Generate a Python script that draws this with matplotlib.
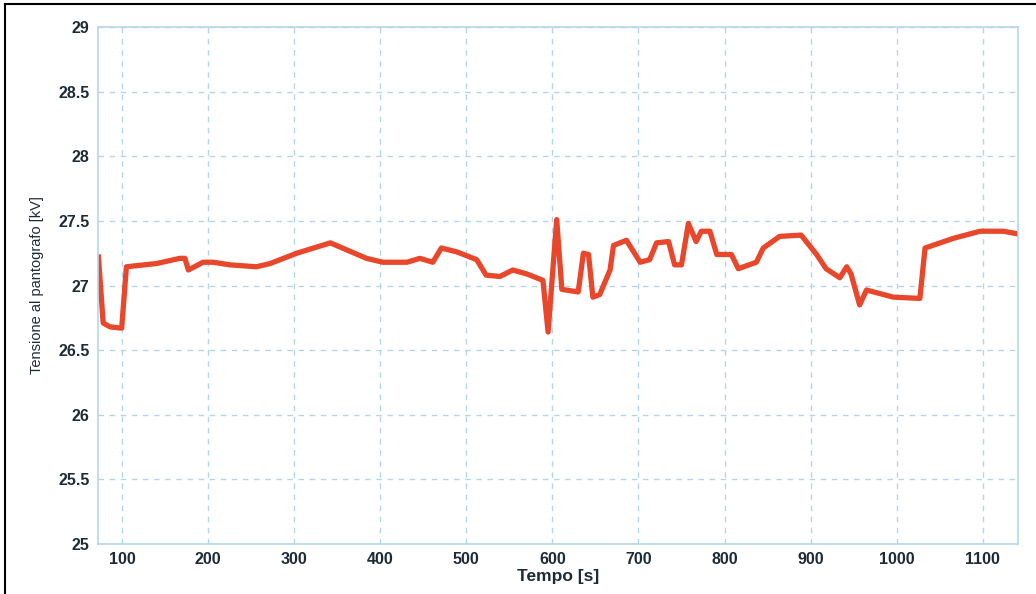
import matplotlib
matplotlib.use('Agg')
import matplotlib.pyplot as plt
from matplotlib.lines import Line2D
from matplotlib.ticker import FuncFormatter

plt.rcParams['font.family'] = ['Liberation Sans', 'DejaVu Sans']

# Tensione al pantografo lungo la corsa
tempo = [72.5, 78, 86, 99.5, 105, 140, 167, 173, 177, 194, 206, 225, 256, 272,
         303, 342, 384, 403, 431, 446, 461, 471, 489, 512, 523, 539, 554, 570,
         589, 595, 605, 611, 630, 636, 642, 647, 655, 667, 671, 686, 702, 713,
         721, 735, 742, 750, 758, 767, 773, 783, 791, 808, 816, 837, 845, 864,
         889, 907, 918, 934, 942, 947, 957, 965, 996, 1027, 1033, 1066, 1097,
         1124, 1140]
tensione = [27.22, 26.71, 26.68, 26.67, 27.145, 27.17, 27.21, 27.21, 27.12,
            27.18, 27.18, 27.16, 27.145, 27.17, 27.25, 27.33, 27.21, 27.18,
            27.18, 27.21, 27.18, 27.29, 27.26, 27.20, 27.08, 27.07, 27.12,
            27.09, 27.04, 26.64, 27.51, 26.97, 26.95, 27.25, 27.24, 26.91,
            26.93, 27.12, 27.31, 27.35, 27.18, 27.20, 27.33, 27.34, 27.16,
            27.16, 27.48, 27.34, 27.42, 27.42, 27.24, 27.24, 27.13, 27.18,
            27.29, 27.38, 27.39, 27.24, 27.13, 27.06, 27.145, 27.09, 26.85,
            26.965, 26.91, 26.90, 27.29, 27.365, 27.42, 27.42, 27.40]

x_ticks = [100, 200, 300, 400, 500, 600, 700, 800, 900, 1000, 1100]
y_ticks = [25, 25.5, 26, 26.5, 27, 27.5, 28, 28.5, 29]

grid_col = '#b4d6ea'
text_col = '#1d2b38'

fig = plt.figure(figsize=(10.36, 5.94), dpi=100)
ax = fig.add_axes([0.0946, 0.0842, 0.888, 0.8703])

ax.plot(tempo, tensione, color='#e8472b', linewidth=3.8, solid_joinstyle='round')

ax.set_xlim(72, 1141)
ax.set_ylim(25, 29)
ax.set_xticks(x_ticks)
ax.set_yticks(y_ticks)
ax.yaxis.set_major_formatter(FuncFormatter(lambda v, p: f'{v:g}'))

ax.grid(True, color=grid_col, linestyle=(0, (4, 4)), linewidth=1.0)
for s in ax.spines.values():
    s.set_color(grid_col)
    s.set_linewidth(1.2)

ax.tick_params(length=0, labelsize=11.5, labelcolor=text_col, pad=6)
for lbl in ax.get_xticklabels() + ax.get_yticklabels():
    lbl.set_fontweight('bold')

ax.set_xlabel('Tempo [s]', fontsize=12.5, fontweight='bold', color=text_col, labelpad=1)
ax.set_ylabel('Tensione al pantografo [kV]', fontsize=10.5, color=text_col, labelpad=10)

# bordo nero in alto e a sinistra
fig.add_artist(Line2D([0.005, 0.005], [0, 0.993], color='black', linewidth=1.5,
                      transform=fig.transFigure))
fig.add_artist(Line2D([0.005, 1.0], [0.993, 0.993], color='black', linewidth=1.5,
                      transform=fig.transFigure))

fig.savefig('out.png', dpi=100, facecolor='white')
